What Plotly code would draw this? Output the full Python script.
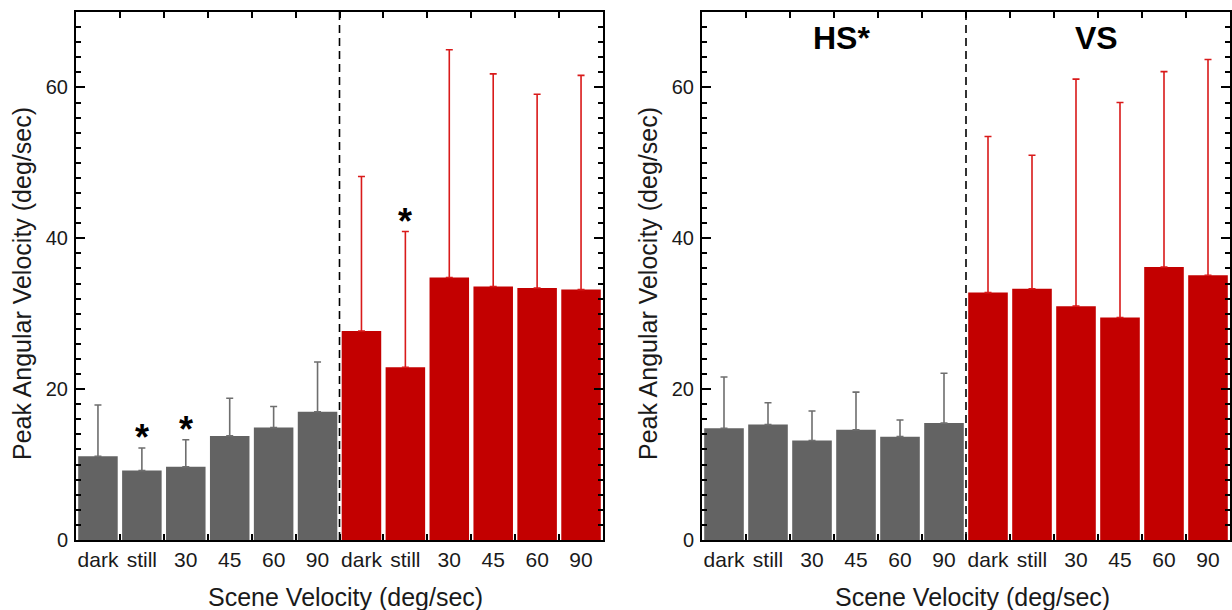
import plotly.graph_objects as go

# ---------------- data ----------------
conditions = ["dark", "still", "30", "45", "60", "90"]

left_hs_mean = [11.1, 9.2, 9.7, 13.8, 14.9, 17.0]
left_hs_upper = [17.9, 12.2, 13.3, 18.8, 17.7, 23.6]
left_vs_mean = [27.7, 22.9, 34.8, 33.6, 33.4, 33.2]
left_vs_upper = [48.2, 40.9, 65.0, 61.8, 59.1, 61.6]
left_hs_sig = [False, True, True, False, False, False]
left_vs_sig = [False, True, False, False, False, False]

right_hs_mean = [14.8, 15.3, 13.2, 14.6, 13.7, 15.5]
right_hs_upper = [21.6, 18.2, 17.1, 19.6, 15.9, 22.1]
right_vs_mean = [32.8, 33.3, 31.0, 29.5, 36.2, 35.1]
right_vs_upper = [53.5, 51.0, 61.1, 58.0, 62.1, 63.7]
right_hs_sig = [False] * 6
right_vs_sig = [False] * 6

group_labels = ["HS*", "VS"]
y_tick_vals = [0, 20, 40, 60]
y_range = [0, 70]
x_title = "Scene Velocity (deg/sec)"
y_title = "Peak Angular Velocity (deg/sec)"

# ---------------- style ----------------
W, H = 1232, 610
GRAY = "#636363"
GRAY_ERR = "#6e6e6e"
RED = "#c30000"
RED_ERR = "#d91a1a"
FONT = "Liberation Sans, Arial, Helvetica, sans-serif"
TXT = "#1a1a1a"

n = len(conditions)
hs_x = list(range(n))
vs_x = list(range(n, 2 * n))
all_x = hs_x + vs_x
tick_text = conditions + conditions

fig = go.Figure()

panels = [
    dict(hs_m=left_hs_mean, hs_u=left_hs_upper, vs_m=left_vs_mean, vs_u=left_vs_upper,
         hs_s=left_hs_sig, vs_s=left_vs_sig, xa="x", ya="y",
         px0=76, px1=603, labels=False),
    dict(hs_m=right_hs_mean, hs_u=right_hs_upper, vs_m=right_vs_mean, vs_u=right_vs_upper,
         hs_s=right_hs_sig, vs_s=right_vs_sig, xa="x2", ya="y2",
         px0=702, px1=1230, labels=True),
]

annotations = []
shapes = []

for p in panels:
    for xs, m, u, col, ecol in [(hs_x, p["hs_m"], p["hs_u"], GRAY, GRAY_ERR),
                                (vs_x, p["vs_m"], p["vs_u"], RED, RED_ERR)]:
        fig.add_trace(go.Bar(
            x=xs, y=m, width=0.9, xaxis=p["xa"], yaxis=p["ya"],
            marker=dict(color=col, line=dict(width=0)),
            error_y=dict(type="data", symmetric=False,
                         array=[a - b for a, b in zip(u, m)],
                         arrayminus=[0] * len(m),
                         color=ecol, thickness=1.6, width=3.5),
            showlegend=False, hoverinfo="skip",
        ))
    # significance stars
    for xs, u, sig in [(hs_x, p["hs_u"], p["hs_s"]), (vs_x, p["vs_u"], p["vs_s"])]:
        for xi, ui, si in zip(xs, u, sig):
            if si:
                annotations.append(dict(
                    x=xi, y=ui, xref=p["xa"], yref=p["ya"], text="<b>*</b>",
                    showarrow=False, yanchor="middle", yshift=10,
                    font=dict(family=FONT, size=36, color="black")))
    # divider
    shapes.append(dict(type="line", xref=p["xa"], yref=p["ya"] + " domain",
                       x0=n - 0.5, x1=n - 0.5, y0=0, y1=1,
                       line=dict(color="black", width=1.6, dash="8px,5px")))
    # titles
    cx = (p["px0"] + p["px1"]) / 2 + 6
    annotations.append(dict(x=cx / W, y=1 - 597 / H, xref="paper", yref="paper",
                            text=x_title, showarrow=False, xanchor="center", yanchor="middle",
                            font=dict(family=FONT, size=25, color=TXT)))
    annotations.append(dict(x=(p["px0"] - 54) / W, y=1 - 284 / H, xref="paper", yref="paper",
                            text=y_title, showarrow=False, textangle=-90,
                            xanchor="center", yanchor="middle",
                            font=dict(family=FONT, size=25, color=TXT)))
    if p["labels"]:
        for lab, fx in zip(group_labels, [0.264, 0.748]):
            annotations.append(dict(x=fx, y=0.951, xref=p["xa"] + " domain",
                                    yref=p["ya"] + " domain", text="<b>" + lab + "</b>",
                                    showarrow=False, xanchor="center", yanchor="middle",
                                    font=dict(family=FONT, size=32, color="black")))

y_dom = [1 - 540 / H, 1 - 12 / H]


def xaxis(p, anchor):
    return dict(domain=[p["px0"] / W, p["px1"] / W], anchor=anchor, automargin=False,
                range=[-0.5, 2 * n - 0.5], tickmode="array", tickvals=all_x,
                ticktext=tick_text, ticks="", showline=True, linecolor="black",
                linewidth=2, mirror="allticks", showgrid=False, zeroline=False,
                tickfont=dict(family=FONT, size=21, color=TXT), ticklabelstandoff=0,
                minor=dict(tickmode="array", tickvals=[i + 0.5 for i in range(2 * n - 1)],
                           ticks="inside", ticklen=6, tickwidth=1.5, tickcolor="black",
                           showgrid=False))


def yaxis(anchor):
    return dict(domain=y_dom, anchor=anchor, range=y_range, tickmode="array", automargin=False,
                tickvals=y_tick_vals, ticks="inside", ticklen=9, tickwidth=1.5,
                tickcolor="black", showline=True, linecolor="black", linewidth=2,
                mirror="allticks", showgrid=False, zeroline=False,
                tickfont=dict(family=FONT, size=20, color=TXT), ticklabelstandoff=2,
                minor=dict(dtick=2, tick0=0, ticks="inside", ticklen=5, tickwidth=1.5,
                           tickcolor="black", showgrid=False))


fig.update_layout(
    width=W, height=H, margin=dict(l=0, r=0, t=0, b=0, autoexpand=False),
    paper_bgcolor="white", plot_bgcolor="white",
    barmode="overlay", showlegend=False,
    xaxis=xaxis(panels[0], "y"), yaxis=yaxis("x"),
    xaxis2=xaxis(panels[1], "y2"), yaxis2=yaxis("x2"),
    annotations=annotations, shapes=shapes,
)

fig.write_html(
    "out.html",
    config={"displayModeBar": False},
    post_script="document.body.style.margin='0';document.body.style.overflow='hidden';",
)
